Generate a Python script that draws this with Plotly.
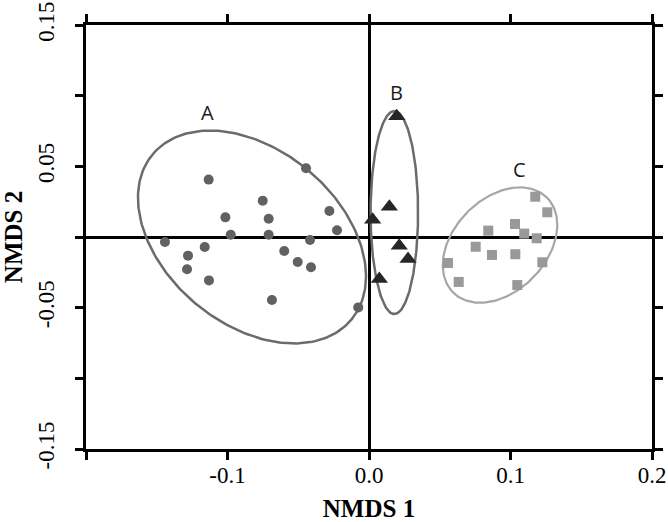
import numpy as np
import plotly.graph_objects as go

# ---- data ----
a_x = [-0.1133, -0.0445, -0.0751, -0.1015, -0.0709, -0.0280, -0.0977, -0.0709, -0.0226, -0.1442,
       -0.1161, -0.0417, -0.1279, -0.0599, -0.1286, -0.0504, -0.0410, -0.1131, -0.0686, -0.0076]
a_y = [0.0406, 0.0486, 0.0257, 0.0139, 0.0129, 0.0184, 0.0016, 0.0016, 0.0048, -0.0035,
       -0.0071, -0.0021, -0.0132, -0.0099, -0.0228, -0.0177, -0.0214, -0.0307, -0.0446, -0.0498]

b_x = [0.0196, 0.0144, 0.0026, 0.0214, 0.0276, 0.0073]
b_y = [0.0854, 0.0214, 0.0122, -0.0062, -0.0156, -0.0297]

c_x = [0.1175, 0.1260, 0.1032, 0.0843, 0.1097, 0.1185, 0.0754, 0.0869, 0.1034, 0.0558,
       0.1225, 0.0634, 0.1048]
c_y = [0.0285, 0.0175, 0.0092, 0.0045, 0.0024, -0.0009, -0.0069, -0.0127, -0.0122, -0.0184,
       -0.0179, -0.0318, -0.0340]

# ellipse parameters: center x, center y, semi-major, semi-minor, angle (deg)
ell_a = [-0.0827, 0.0000, 0.0914, 0.0617, -39.8]
ell_b = [0.0179, 0.0173, 0.0718, 0.0168, 90.0]
ell_c = [0.0926, -0.0057, 0.0472, 0.0328, 45.7]

group_labels = ["A", "B", "C"]
label_x = [-0.114, 0.0191, 0.1063]
label_y = [0.0882, 0.1019, 0.0481]

x_tickvals = [-0.2, -0.1, 0.0, 0.1, 0.2]
x_ticktext = ["", "-0.1", "0.0", "0.1", "0.2"]
y_tickvals = [-0.15, -0.1, -0.05, 0.0, 0.05, 0.1, 0.15]
y_ticktext = ["-0.15", "", "-0.05", "", "0.05", "", "0.15"]


def ellipse(p, n=240):
    cx, cy, a, b, ang = p
    th = np.deg2rad(ang)
    t = np.linspace(0, 2 * np.pi, n)
    x = cx + a * np.cos(t) * np.cos(th) - b * np.sin(t) * np.sin(th)
    y = cy + a * np.cos(t) * np.sin(th) + b * np.sin(t) * np.cos(th)
    return x, y


fig = go.Figure()

for p, col, w in [(ell_a, "#6b6b6b", 2.5), (ell_b, "#6b6b6b", 2.5), (ell_c, "#a6a6a6", 2.2)]:
    ex, ey = ellipse(p)
    fig.add_trace(go.Scatter(x=ex, y=ey, mode="lines", line=dict(color=col, width=w),
                             hoverinfo="skip", showlegend=False))

fig.add_trace(go.Scatter(x=a_x, y=a_y, mode="markers",
                         marker=dict(symbol="circle", size=10, color="#616161"), showlegend=False))
fig.add_trace(go.Scatter(x=b_x, y=b_y, mode="markers",
                         marker=dict(symbol="triangle-up", size=15, color="#262626"), showlegend=False))
fig.add_trace(go.Scatter(x=c_x, y=c_y, mode="markers",
                         marker=dict(symbol="square", size=10, color="#999999"), showlegend=False))

for t, x, y in zip(group_labels, label_x, label_y):
    fig.add_annotation(x=x, y=y, text=t, showarrow=False,
                       font=dict(family="Open Sans", size=20, color="#1a1a1a"))

tickfont = dict(family="Liberation Serif", size=23, color="black")
titlefont = dict(family="Liberation Serif", size=25, color="black")

fig.update_xaxes(range=[-0.2, 0.2], tickvals=x_tickvals, ticktext=x_ticktext,
                 showgrid=False, zeroline=True, zerolinecolor="black", zerolinewidth=3,
                 showline=True, linecolor="black", linewidth=3, mirror="allticks",
                 ticks="outside", ticklen=8, tickwidth=3, tickcolor="black",
                 tickfont=tickfont, ticklabelstandoff=-5,
                 title=dict(text="<b>NMDS 1</b>", font=titlefont, standoff=13))
fig.update_yaxes(range=[-0.15, 0.15], tickvals=y_tickvals, ticktext=y_ticktext,
                 showgrid=False, zeroline=True, zerolinecolor="black", zerolinewidth=3,
                 showline=True, linecolor="black", linewidth=3, mirror="allticks",
                 ticks="outside", ticklen=8, tickwidth=3, tickcolor="black",
                 tickfont=tickfont, tickangle=-90, ticklabelstandoff=12,
                 title=dict(text="<b>NMDS 2</b>", font=titlefont, standoff=6))

fig.update_layout(width=668, height=522, margin=dict(l=86, r=16, t=25, b=73, autoexpand=False),
                  plot_bgcolor="white", paper_bgcolor="white", showlegend=False)

fig.write_html("out.html", config={"displayModeBar": False},
               post_script="document.body.style.margin='0';")
